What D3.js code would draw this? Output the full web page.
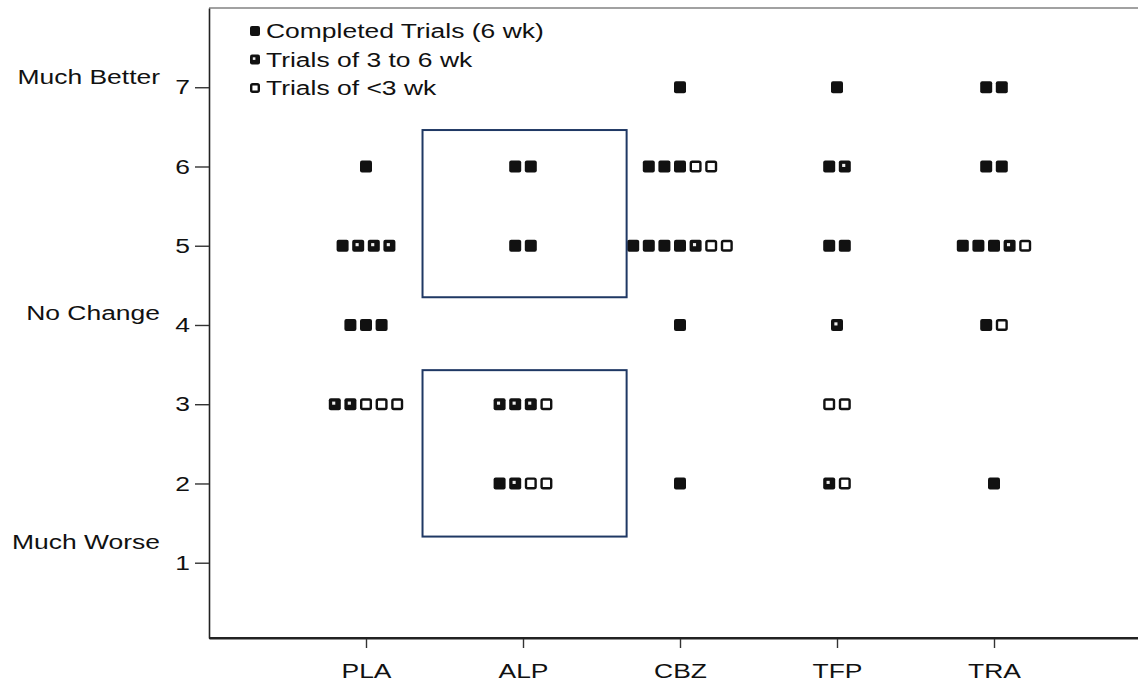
<!DOCTYPE html>
<html>
<head>
<meta charset="utf-8">
<script src="https://cdn.jsdelivr.net/npm/d3@7"></script>
<style>
  body { margin: 0; background: #fff; }
  text { font-family: "Liberation Sans", Arial, Helvetica, sans-serif; fill: #111; }
</style>
</head>
<body>
<svg id="chart" width="1138" height="684"></svg>
<script>

/************************* DATA ******************************/

var categories = ["PLA", "ALP", "CBZ", "TFP", "TRA"];
var yTicks = [1, 2, 3, 4, 5, 6, 7];
var anchorLabels = ["Much Better", "No Change", "Much Worse"];
var anchorValues = [7.13, 4.15, 1.26];

// marker codes: F = completed (6 wk), P = 3 to 6 wk, O = <3 wk
var PLA_rows = [[6, "F"], [5, "FPPP"], [4, "FFF"], [3, "PPOOO"]];
var ALP_rows = [[6, "FF"], [5, "FF"], [3, "PPPO"], [2, "FPOO"]];
var CBZ_rows = [[7, "F"], [6, "FFFOO"], [5, "FFFFPOO"], [4, "F"], [2, "F"]];
var TFP_rows = [[7, "F"], [6, "FP"], [5, "FF"], [4, "P"], [3, "OO"], [2, "PO"]];
var TRA_rows = [[7, "FF"], [6, "FF"], [5, "FFFPO"], [4, "FO"], [2, "F"]];

var legendLabels = ["Completed Trials (6 wk)", "Trials of 3 to 6 wk", "Trials of <3 wk"];
var legendCodes = ["F", "P", "O"];

// highlighted boxes (category, value range)
var boxCats = ["ALP", "ALP"];
var boxFrom = [4.35, 1.33];
var boxTo = [6.46, 3.43];

var rowsByCat = { PLA: PLA_rows, ALP: ALP_rows, CBZ: CBZ_rows, TFP: TFP_rows, TRA: TRA_rows };

/************************* SCALES ******************************/

var svg = d3.select("#chart");
var plotLeft = 209, plotRight = 1151, plotTop = 8, plotBottom = 638;

var x = d3.scalePoint()
  .domain(categories)
  .range([plotLeft, plotRight])
  .padding(1);

var y = d3.scaleLinear()
  .domain([0.05, 8])
  .range([plotBottom, plotTop]);

var pitch = 15.6, size = 12;
var stretch = 1.26;   // the scanned figure's lettering is wide

// widen text horizontally around its own anchor
function widen(sel) {
  sel.attr("x", function () { return (+this.getAttribute("x") || 0) / stretch; })
    .attr("transform", "scale(" + stretch + ",1)");
}

/************************* AXES ******************************/

svg.append("g")
  .attr("transform", "translate(" + plotLeft + ",0)")
  .call(d3.axisLeft(y).tickValues(yTicks).tickSize(14).tickPadding(5).tickSizeOuter(0))
  .call(function (g) {
    g.select(".domain").attr("stroke", "#222").attr("stroke-width", 1.6);
    g.selectAll(".tick line").attr("stroke", "#333").attr("stroke-width", 1.4);
    g.selectAll(".tick text").style("font-size", "21px").attr("fill", "#111").call(widen);
  });

svg.append("g")
  .attr("transform", "translate(0," + plotBottom + ")")
  .call(d3.axisBottom(x).tickSize(10).tickPadding(15).tickSizeOuter(0))
  .call(function (g) {
    g.select(".domain").attr("stroke", "#222").attr("stroke-width", 2);
    g.selectAll(".tick line").attr("stroke", "#333").attr("stroke-width", 1.4);
    g.selectAll(".tick text").style("font-size", "21px").attr("fill", "#111").call(widen);
  });

// extend bottom axis to right edge and draw top border
svg.append("line")
  .attr("x1", plotLeft).attr("x2", 1138)
  .attr("y1", plotBottom).attr("y2", plotBottom)
  .attr("stroke", "#222").attr("stroke-width", 2);

svg.append("line")
  .attr("x1", plotLeft).attr("x2", 1138)
  .attr("y1", plotTop).attr("y2", plotTop)
  .attr("stroke", "#444").attr("stroke-width", 1.2);

// descriptive labels on the left
svg.selectAll(".anchor")
  .data(anchorLabels)
  .enter()
  .append("g")
  .attr("class", "anchor")
  .attr("transform", function (d, i) { return "translate(160," + y(anchorValues[i]) + ")"; })
  .append("text")
  .attr("dy", "0.35em")
  .attr("text-anchor", "end")
  .style("font-size", "21px")
  .text(function (d) { return d; })
  .call(widen);

/************************* MARKERS ******************************/

function drawMarker(g, code, cx, cy, s) {
  if (code === "O") {
    g.append("rect")
      .attr("x", cx - s / 2 + 1.2).attr("y", cy - s / 2 + 1.2)
      .attr("width", s - 2.4).attr("height", s - 2.4)
      .attr("rx", 1.5)
      .attr("fill", "#fff").attr("stroke", "#111").attr("stroke-width", 2.4);
  } else {
    g.append("rect")
      .attr("x", cx - s / 2).attr("y", cy - s / 2)
      .attr("width", s).attr("height", s)
      .attr("rx", 2)
      .attr("fill", "#111");
    if (code === "P") {
      g.append("rect")
        .attr("x", cx - s * 0.22).attr("y", cy - s * 0.22)
        .attr("width", s * 0.26).attr("height", s * 0.26)
        .attr("fill", "#eee");
    }
  }
}

var markers = svg.append("g");

categories.forEach(function (cat) {
  rowsByCat[cat].forEach(function (row) {
    var codes = row[1].split("");
    codes.forEach(function (c, i) {
      var cx = x(cat) + (i - (codes.length - 1) / 2) * pitch;
      drawMarker(markers, c, cx, y(row[0]), size);
    });
  });
});

/************************* BOXES ******************************/

var step = x.step();
svg.selectAll(".hbox")
  .data(boxCats)
  .enter()
  .append("rect")
  .attr("class", "hbox")
  .attr("x", function (d) { return x(d) - step * 0.64; })
  .attr("width", step * 1.3)
  .attr("y", function (d, i) { return y(boxTo[i]); })
  .attr("height", function (d, i) { return y(boxFrom[i]) - y(boxTo[i]); })
  .attr("fill", "none")
  .attr("stroke", "#1f3864")
  .attr("stroke-width", 2);

/************************* LEGEND ******************************/

var legend = svg.append("g");
legendLabels.forEach(function (lab, i) {
  var ly = 31 + i * 28.5;
  drawMarker(legend, legendCodes[i], 255, ly, 10);
  legend.append("text")
    .attr("x", 266)
    .attr("y", ly)
    .attr("dy", "0.35em")
    .style("font-size", "21px")
    .text(lab)
    .call(widen);
});

</script>
</body>
</html>
